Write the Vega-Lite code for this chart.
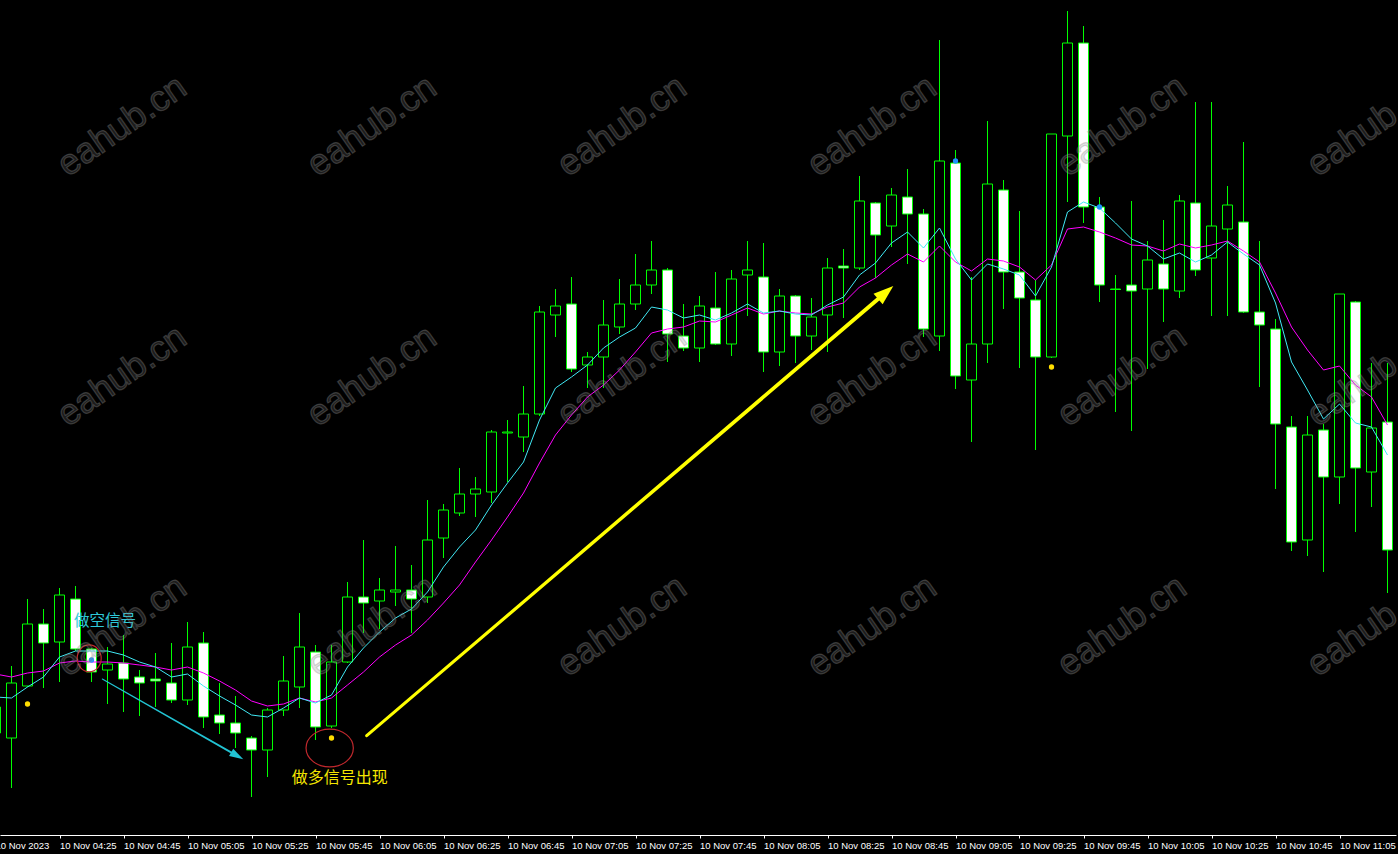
{
"$schema":"https://vega.github.io/schema/vega-lite/v6.json",
"width":1396,"height":835,
"autosize":{"type":"none"},
"padding":{"left":0,"top":0,"right":2,"bottom":19},
"background":"#000000",
"config":{"view":{"stroke":null},"axis":{"grid":false}},
"resolve":{"scale":{"color":"independent","size":"independent"}},
"datasets":{
"candles":[
{"t":"2023-11-10T04:05:00","o":733,"h":700,"l":745,"c":707,"f":697,"s":674},
{"t":"2023-11-10T04:10:00","o":738,"h":666,"l":788,"c":683,"f":698,"s":677},
{"t":"2023-11-10T04:15:00","o":686,"h":599,"l":687,"c":624,"f":687,"s":673},
{"t":"2023-11-10T04:20:00","o":624,"h":609,"l":688,"c":643,"f":677,"s":671},
{"t":"2023-11-10T04:25:00","o":642,"h":588,"l":682,"c":595,"f":657,"s":663},
{"t":"2023-11-10T04:30:00","o":599,"h":586,"l":651,"c":649,"f":651,"s":661},
{"t":"2023-11-10T04:35:00","o":649,"h":648,"l":682,"c":672,"f":651,"s":662},
{"t":"2023-11-10T04:40:00","o":670,"h":647,"l":704,"c":664,"f":651,"s":662},
{"t":"2023-11-10T04:45:00","o":663,"h":635,"l":712,"c":679,"f":655,"s":663},
{"t":"2023-11-10T04:50:00","o":677,"h":670,"l":716,"c":683,"f":662,"s":665},
{"t":"2023-11-10T04:55:00","o":679,"h":653,"l":707,"c":681,"f":667,"s":667},
{"t":"2023-11-10T05:00:00","o":683,"h":643,"l":703,"c":700,"f":677,"s":670},
{"t":"2023-11-10T05:05:00","o":700,"h":622,"l":705,"c":647,"f":674,"s":667},
{"t":"2023-11-10T05:10:00","o":643,"h":632,"l":728,"c":717,"f":686,"s":673},
{"t":"2023-11-10T05:15:00","o":715,"h":683,"l":734,"c":723,"f":696,"s":681},
{"t":"2023-11-10T05:20:00","o":723,"h":696,"l":748,"c":733,"f":705,"s":690},
{"t":"2023-11-10T05:25:00","o":738,"h":736,"l":797,"c":750,"f":715,"s":701},
{"t":"2023-11-10T05:30:00","o":750,"h":708,"l":777,"c":710,"f":717,"s":706},
{"t":"2023-11-10T05:35:00","o":710,"h":656,"l":716,"c":681,"f":708,"s":704},
{"t":"2023-11-10T05:40:00","o":687,"h":613,"l":708,"c":647,"f":698,"s":698},
{"t":"2023-11-10T05:45:00","o":652,"h":645,"l":740,"c":727,"f":703,"s":702},
{"t":"2023-11-10T05:50:00","o":726,"h":645,"l":728,"c":662,"f":695,"s":698},
{"t":"2023-11-10T05:55:00","o":662,"h":582,"l":663,"c":597,"f":667,"s":685},
{"t":"2023-11-10T06:00:00","o":597,"h":540,"l":633,"c":603,"f":648,"s":672},
{"t":"2023-11-10T06:05:00","o":601,"h":578,"l":629,"c":590,"f":632,"s":657},
{"t":"2023-11-10T06:10:00","o":592,"h":546,"l":606,"c":590,"f":618,"s":645},
{"t":"2023-11-10T06:15:00","o":590,"h":565,"l":633,"c":599,"f":609,"s":635},
{"t":"2023-11-10T06:20:00","o":597,"h":500,"l":603,"c":540,"f":592,"s":620},
{"t":"2023-11-10T06:25:00","o":538,"h":504,"l":558,"c":510,"f":567,"s":603},
{"t":"2023-11-10T06:30:00","o":513,"h":468,"l":516,"c":494,"f":547,"s":585},
{"t":"2023-11-10T06:35:00","o":494,"h":477,"l":517,"c":489,"f":530,"s":562},
{"t":"2023-11-10T06:40:00","o":492,"h":430,"l":503,"c":432,"f":505,"s":540},
{"t":"2023-11-10T06:45:00","o":433,"h":420,"l":482,"c":432,"f":483,"s":517},
{"t":"2023-11-10T06:50:00","o":437,"h":386,"l":452,"c":414,"f":462,"s":493},
{"t":"2023-11-10T06:55:00","o":414,"h":306,"l":416,"c":312,"f":420,"s":463},
{"t":"2023-11-10T07:00:00","o":315,"h":289,"l":337,"c":306,"f":388,"s":435},
{"t":"2023-11-10T07:05:00","o":304,"h":277,"l":372,"c":369,"f":377,"s":415},
{"t":"2023-11-10T07:10:00","o":365,"h":352,"l":388,"c":357,"f":365,"s":397},
{"t":"2023-11-10T07:15:00","o":357,"h":300,"l":388,"c":325,"f":348,"s":385},
{"t":"2023-11-10T07:20:00","o":327,"h":279,"l":334,"c":304,"f":337,"s":370},
{"t":"2023-11-10T07:25:00","o":304,"h":254,"l":310,"c":285,"f":328,"s":352},
{"t":"2023-11-10T07:30:00","o":285,"h":241,"l":294,"c":270,"f":307,"s":333},
{"t":"2023-11-10T07:35:00","o":270,"h":268,"l":362,"c":334,"f":310,"s":329},
{"t":"2023-11-10T07:40:00","o":336,"h":304,"l":351,"c":348,"f":318,"s":327},
{"t":"2023-11-10T07:45:00","o":348,"h":296,"l":362,"c":306,"f":315,"s":321},
{"t":"2023-11-10T07:50:00","o":308,"h":272,"l":345,"c":344,"f":320,"s":322},
{"t":"2023-11-10T07:55:00","o":344,"h":270,"l":356,"c":279,"f":313,"s":315},
{"t":"2023-11-10T08:00:00","o":275,"h":241,"l":316,"c":270,"f":304,"s":308},
{"t":"2023-11-10T08:05:00","o":277,"h":243,"l":372,"c":352,"f":313,"s":314},
{"t":"2023-11-10T08:10:00","o":352,"h":289,"l":366,"c":296,"f":311,"s":311},
{"t":"2023-11-10T08:15:00","o":296,"h":295,"l":363,"c":336,"f":314,"s":313},
{"t":"2023-11-10T08:20:00","o":336,"h":298,"l":350,"c":317,"f":315,"s":314},
{"t":"2023-11-10T08:25:00","o":315,"h":258,"l":352,"c":268,"f":305,"s":307},
{"t":"2023-11-10T08:30:00","o":266,"h":249,"l":318,"c":268,"f":297,"s":303},
{"t":"2023-11-10T08:35:00","o":268,"h":176,"l":270,"c":201,"f":275,"s":287},
{"t":"2023-11-10T08:40:00","o":203,"h":202,"l":278,"c":235,"f":263,"s":278},
{"t":"2023-11-10T08:45:00","o":226,"h":188,"l":247,"c":195,"f":243,"s":265},
{"t":"2023-11-10T08:50:00","o":197,"h":169,"l":264,"c":214,"f":232,"s":254},
{"t":"2023-11-10T08:55:00","o":214,"h":209,"l":337,"c":329,"f":248,"s":262},
{"t":"2023-11-10T09:00:00","o":336,"h":40,"l":351,"c":161,"f":228,"s":246},
{"t":"2023-11-10T09:05:00","o":163,"h":150,"l":389,"c":376,"f":259,"s":262},
{"t":"2023-11-10T09:10:00","o":380,"h":277,"l":442,"c":344,"f":280,"s":271},
{"t":"2023-11-10T09:15:00","o":344,"h":121,"l":363,"c":184,"f":264,"s":259},
{"t":"2023-11-10T09:20:00","o":190,"h":180,"l":309,"c":272,"f":269,"s":261},
{"t":"2023-11-10T09:25:00","o":272,"h":211,"l":368,"c":298,"f":275,"s":267},
{"t":"2023-11-10T09:30:00","o":300,"h":280,"l":450,"c":357,"f":296,"s":280},
{"t":"2023-11-10T09:35:00","o":357,"h":134,"l":358,"c":134,"f":267,"s":265},
{"t":"2023-11-10T09:40:00","o":136,"h":11,"l":202,"c":43,"f":212,"s":229},
{"t":"2023-11-10T09:45:00","o":43,"h":26,"l":223,"c":207,"f":202,"s":227},
{"t":"2023-11-10T09:50:00","o":207,"h":197,"l":302,"c":285,"f":208,"s":232},
{"t":"2023-11-10T09:55:00","o":289,"h":275,"l":412,"c":289.5,"f":223,"s":238},
{"t":"2023-11-10T10:00:00","o":285,"h":201,"l":431,"c":291,"f":239,"s":245},
{"t":"2023-11-10T10:05:00","o":289,"h":241,"l":369,"c":260,"f":246,"s":246},
{"t":"2023-11-10T10:10:00","o":264,"h":220,"l":322,"c":289,"f":259,"s":251},
{"t":"2023-11-10T10:15:00","o":291,"h":195,"l":298,"c":201,"f":253,"s":244},
{"t":"2023-11-10T10:20:00","o":203,"h":102,"l":276,"c":270,"f":262,"s":248},
{"t":"2023-11-10T10:25:00","o":258,"h":102,"l":316,"c":226,"f":255,"s":245},
{"t":"2023-11-10T10:30:00","o":229,"h":186,"l":316,"c":205,"f":242,"s":241},
{"t":"2023-11-10T10:35:00","o":222,"h":142,"l":313,"c":312,"f":254,"s":251},
{"t":"2023-11-10T10:40:00","o":312,"h":241,"l":387,"c":325,"f":265,"s":262},
{"t":"2023-11-10T10:45:00","o":329,"h":319,"l":489,"c":424,"f":303,"s":293},
{"t":"2023-11-10T10:50:00","o":427,"h":416,"l":551,"c":542,"f":362,"s":327},
{"t":"2023-11-10T10:55:00","o":540,"h":416,"l":556,"c":435,"f":390,"s":350},
{"t":"2023-11-10T11:00:00","o":430,"h":424,"l":572,"c":477,"f":419,"s":370},
{"t":"2023-11-10T11:05:00","o":477,"h":294,"l":504,"c":294,"f":404,"s":366},
{"t":"2023-11-10T11:10:00","o":302,"h":301,"l":532,"c":468,"f":423,"s":385},
{"t":"2023-11-10T11:15:00","o":472,"h":363,"l":507,"c":428,"f":427,"s":397},
{"t":"2023-11-10T11:20:00","o":422,"h":363,"l":593,"c":550,"f":455,"s":425}
],
"dots":[
{"t":"2023-11-10T04:15:00","y":704,"kind":"buy"},
{"t":"2023-11-10T05:50:00","y":738,"kind":"buy"},
{"t":"2023-11-10T09:35:00","y":367,"kind":"buy"},
{"t":"2023-11-10T04:35:00","y":660,"kind":"sell"},
{"t":"2023-11-10T09:05:00","y":161,"kind":"sell"},
{"t":"2023-11-10T09:50:00","y":207,"kind":"sell"}
],
"ellipses":[
{"t":"2023-11-10T04:34:17","y":658.3,"name":"small"},
{"t":"2023-11-10T05:49:26","y":748,"name":"big"}
],
"arrows":[
{"t":"2023-11-10T04:38:22.500","y":679,"arrow":"sell","part":"c0"},
{"t":"2023-11-10T05:20:32","y":755.85,"arrow":"sell","part":"c1"},
{"t":"2023-11-10T06:01:00","y":735.7,"arrow":"buy","part":"y0"},
{"t":"2023-11-10T08:43:11","y":292.5,"arrow":"buy","part":"y1"}
],
"heads":[
{"t":"2023-11-10T05:20:32","y":755.85,"arrow":"sell"},
{"t":"2023-11-10T08:43:11","y":292.5,"arrow":"buy"}
],
"notes":[
{"t":"2023-11-10T04:29:32","y":621,"text":"做空信号","kind":"sell"},
{"t":"2023-11-10T05:37:34","y":778,"text":"做多信号出现","kind":"buy"}
],
"marks":[
{"t":"2023-11-10T04:44:32","y":126,"text":"eahub.cn"},
{"t":"2023-11-10T06:02:39","y":126,"text":"eahub.cn"},
{"t":"2023-11-10T07:20:47","y":126,"text":"eahub.cn"},
{"t":"2023-11-10T08:38:55","y":126,"text":"eahub.cn"},
{"t":"2023-11-10T09:57:02","y":126,"text":"eahub.cn"},
{"t":"2023-11-10T11:15:09","y":126,"text":"eahub.cn"},
{"t":"2023-11-10T04:44:32","y":376,"text":"eahub.cn"},
{"t":"2023-11-10T06:02:39","y":376,"text":"eahub.cn"},
{"t":"2023-11-10T07:20:47","y":376,"text":"eahub.cn"},
{"t":"2023-11-10T08:38:55","y":376,"text":"eahub.cn"},
{"t":"2023-11-10T09:57:02","y":376,"text":"eahub.cn"},
{"t":"2023-11-10T11:15:09","y":376,"text":"eahub.cn"},
{"t":"2023-11-10T04:44:32","y":626,"text":"eahub.cn"},
{"t":"2023-11-10T06:02:39","y":626,"text":"eahub.cn"},
{"t":"2023-11-10T07:20:47","y":626,"text":"eahub.cn"},
{"t":"2023-11-10T08:38:55","y":626,"text":"eahub.cn"},
{"t":"2023-11-10T09:57:02","y":626,"text":"eahub.cn"},
{"t":"2023-11-10T11:15:09","y":626,"text":"eahub.cn"}
]
},
"encoding":{
"x":{"field":"t","type":"temporal","title":null,
"scale":{"domain":[{"year":2023,"month":11,"date":10,"hours":4,"minutes":6,"seconds":24,"milliseconds":375},{"year":2023,"month":11,"date":10,"hours":11,"minutes":22,"seconds":39,"milliseconds":375}],"nice":false,"padding":0},
"axis":{"values":[
{"year":2023,"month":11,"date":10,"hours":4,"minutes":6,"seconds":25},
{"year":2023,"month":11,"date":10,"hours":4,"minutes":25},
{"year":2023,"month":11,"date":10,"hours":4,"minutes":45},
{"year":2023,"month":11,"date":10,"hours":5,"minutes":5},
{"year":2023,"month":11,"date":10,"hours":5,"minutes":25},
{"year":2023,"month":11,"date":10,"hours":5,"minutes":45},
{"year":2023,"month":11,"date":10,"hours":6,"minutes":5},
{"year":2023,"month":11,"date":10,"hours":6,"minutes":25},
{"year":2023,"month":11,"date":10,"hours":6,"minutes":45},
{"year":2023,"month":11,"date":10,"hours":7,"minutes":5},
{"year":2023,"month":11,"date":10,"hours":7,"minutes":25},
{"year":2023,"month":11,"date":10,"hours":7,"minutes":45},
{"year":2023,"month":11,"date":10,"hours":8,"minutes":5},
{"year":2023,"month":11,"date":10,"hours":8,"minutes":25},
{"year":2023,"month":11,"date":10,"hours":8,"minutes":45},
{"year":2023,"month":11,"date":10,"hours":9,"minutes":5},
{"year":2023,"month":11,"date":10,"hours":9,"minutes":25},
{"year":2023,"month":11,"date":10,"hours":9,"minutes":45},
{"year":2023,"month":11,"date":10,"hours":10,"minutes":5},
{"year":2023,"month":11,"date":10,"hours":10,"minutes":25},
{"year":2023,"month":11,"date":10,"hours":10,"minutes":45},
{"year":2023,"month":11,"date":10,"hours":11,"minutes":5}],
"labelExpr":"datum.value < datetime(2023,10,10,4,10) ? '10 Nov 2023' : timeFormat(datum.value, '%d %b %H:%M')",
"labelOffset":{"condition":{"test":"datum.value < datetime(2023,10,10,4,10)","value":-5},"value":0},
"tickOpacity":{"condition":{"test":"datum.value < datetime(2023,10,10,4,10)","value":0},"value":1},
"domainColor":"#ffffff","domainWidth":1,"tickColor":"#ffffff","tickSize":3,"tickWidth":1,
"labelColor":"#ffffff","labelFont":"Liberation Sans","labelFontSize":9.5,"labelAlign":"left","labelBaseline":"top","labelPadding":2,"labelDx":1,
"labelBound":false,"labelFlush":false,"labelOverlap":false,"grid":false,"title":null}}
},
"layer":[
{"data":{"name":"candles"},"mark":{"type":"rule","color":"#00ff00","strokeWidth":1},
"encoding":{"y":{"field":"h","type":"quantitative","title":null,"scale":{"domain":[0,835],"reverse":true,"nice":false,"zero":false,"padding":0},
"axis":{"orient":"right","values":[25,67,109,151,193,235,277,319,361,403,445,487,529,571,613,655,697,739,781,823],"labels":false,"title":null,"grid":false,"domainColor":"#ffffff","domainWidth":1,"tickColor":"#ffffff","tickSize":2}},
"y2":{"field":"l"}}},
{"data":{"name":"candles"},"mark":{"type":"bar","width":10,"stroke":"#00ff00","strokeWidth":1},
"encoding":{"y":{"field":"o","type":"quantitative","scale":{"domain":[0,835],"reverse":true,"nice":false,"zero":false,"padding":0},"axis":null},
"y2":{"field":"c"},
"fill":{"condition":{"test":"datum.c > datum.o","value":"#ffffff"},"value":"#000000"}}},
{"data":{"name":"candles"},"mark":{"type":"line","color":"#ff00ff","strokeWidth":1},
"encoding":{"y":{"field":"s","type":"quantitative","scale":{"domain":[0,835],"reverse":true,"nice":false,"zero":false,"padding":0},"axis":null}}},
{"data":{"name":"candles"},"mark":{"type":"line","color":"#40e8f4","strokeWidth":1},
"encoding":{"y":{"field":"f","type":"quantitative","scale":{"domain":[0,835],"reverse":true,"nice":false,"zero":false,"padding":0},"axis":null}}},
{"data":{"name":"dots"},"mark":{"type":"point","shape":"circle","filled":true,"size":28,"opacity":1},
"encoding":{"y":{"field":"y","type":"quantitative","scale":{"domain":[0,835],"reverse":true,"nice":false,"zero":false,"padding":0},"axis":null},
"color":{"field":"kind","type":"nominal","scale":{"domain":["buy","sell"],"range":["#ffdd00","#1e90ff"]},"legend":null}}},
{"data":{"name":"ellipses"},"transform":[{"filter":"datum.name == 'small'"}],
"mark":{"type":"point","shape":"M -1 0 C -1 -0.6186 -0.5523 -1.12 0 -1.12 C 0.5523 -1.12 1 -0.6186 1 0 C 1 0.6186 0.5523 1.12 0 1.12 C -0.5523 1.12 -1 0.6186 -1 0 Z","size":576,"filled":false,"stroke":"#c0282d","strokeWidth":1.2,"opacity":1},
"encoding":{"y":{"field":"y","type":"quantitative","scale":{"domain":[0,835],"reverse":true,"nice":false,"zero":false,"padding":0},"axis":null}}},
{"data":{"name":"ellipses"},"transform":[{"filter":"datum.name == 'big'"}],
"mark":{"type":"point","shape":"M -1 0 C -1 -0.4418 -0.5523 -0.8 0 -0.8 C 0.5523 -0.8 1 -0.4418 1 0 C 1 0.4418 0.5523 0.8 0 0.8 C -0.5523 0.8 -1 0.4418 -1 0 Z","size":2237,"filled":false,"stroke":"#c0282d","strokeWidth":1.2,"opacity":1},
"encoding":{"y":{"field":"y","type":"quantitative","scale":{"domain":[0,835],"reverse":true,"nice":false,"zero":false,"padding":0},"axis":null}}},
{"data":{"name":"arrows"},"mark":{"type":"trail","opacity":1},
"encoding":{"y":{"field":"y","type":"quantitative","scale":{"domain":[0,835],"reverse":true,"nice":false,"zero":false,"padding":0},"axis":null},
"detail":{"field":"arrow"},
"size":{"field":"part","type":"ordinal","scale":{"domain":["c0","c1","y0","y1"],"range":[1,4,1.5,7]},"legend":null},
"color":{"field":"arrow","type":"nominal","scale":{"domain":["sell","buy"],"range":["#22c3d3","#ffff00"]},"legend":null}}},
{"data":{"name":"heads"},"transform":[{"filter":"datum.arrow == 'sell'"}],
"mark":{"type":"point","shape":"M 1 0 L -1 -0.6 L -1 0.6 Z","size":196,"angle":29.6,"filled":true,"color":"#22c3d3","opacity":1,"strokeWidth":0},
"encoding":{"y":{"field":"y","type":"quantitative","scale":{"domain":[0,835],"reverse":true,"nice":false,"zero":false,"padding":0},"axis":null}}},
{"data":{"name":"heads"},"transform":[{"filter":"datum.arrow == 'buy'"}],
"mark":{"type":"point","shape":"M 1 0 L -1 -0.7 L -1 0.7 Z","size":400,"angle":319.5,"filled":true,"color":"#ffff00","opacity":1,"strokeWidth":0},
"encoding":{"y":{"field":"y","type":"quantitative","scale":{"domain":[0,835],"reverse":true,"nice":false,"zero":false,"padding":0},"axis":null}}},
{"data":{"name":"notes"},"transform":[{"filter":"datum.kind == 'sell'"}],
"mark":{"type":"text","align":"left","baseline":"middle","font":"Noto Sans CJK SC","fontSize":15.5,"color":"#2ec8d8"},
"encoding":{"y":{"field":"y","type":"quantitative","scale":{"domain":[0,835],"reverse":true,"nice":false,"zero":false,"padding":0},"axis":null},"text":{"field":"text"}}},
{"data":{"name":"notes"},"transform":[{"filter":"datum.kind == 'buy'"}],
"mark":{"type":"text","align":"left","baseline":"middle","font":"Noto Sans CJK SC","fontSize":16,"color":"#f5e600"},
"encoding":{"y":{"field":"y","type":"quantitative","scale":{"domain":[0,835],"reverse":true,"nice":false,"zero":false,"padding":0},"axis":null},"text":{"field":"text"}}},
{"data":{"name":"marks"},
"mark":{"type":"text","align":"center","baseline":"middle","angle":325,"font":"Liberation Sans","fontSize":36,"fill":"#808080","fillOpacity":0.22,"stroke":"#909090","strokeOpacity":0.35,"strokeWidth":1.2},
"encoding":{"y":{"field":"y","type":"quantitative","scale":{"domain":[0,835],"reverse":true,"nice":false,"zero":false,"padding":0},"axis":null},"text":{"field":"text"}}}
]
}
